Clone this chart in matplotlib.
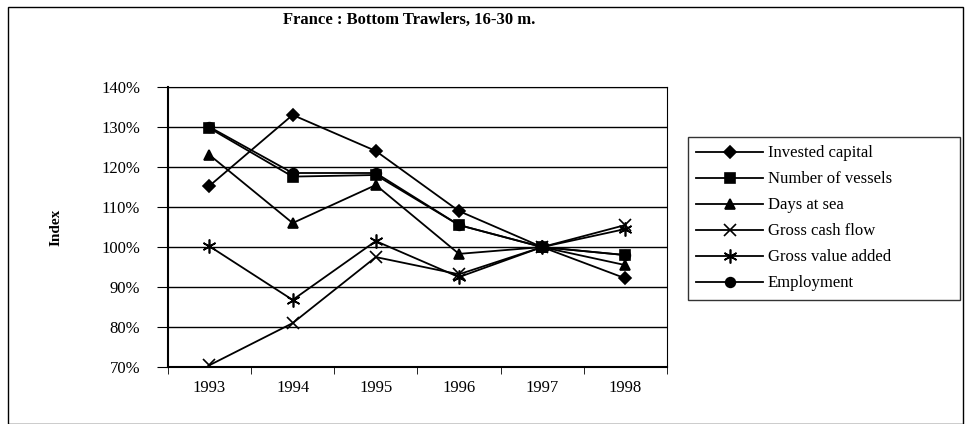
import numpy as np
import matplotlib.pyplot as plt
from matplotlib.patches import Rectangle

plt.rcParams['font.family'] = ['Liberation Serif', 'DejaVu Serif']

years = ['1993', '1994', '1995', '1996', '1997', '1998']
invested_capital = [115.3, 133.0, 124.0, 109.0, 100.0, 92.2]
number_of_vessels = [129.7, 117.6, 118.0, 105.5, 100.0, 98.0]
days_at_sea = [123.0, 106.0, 115.5, 98.3, 100.0, 95.5]
gross_cash_flow = [70.5, 81.0, 97.5, 93.2, 100.0, 105.5]
gross_value_added = [100.2, 86.8, 101.5, 92.5, 100.0, 104.5]
employment = [130.0, 118.5, 118.5, 105.5, 100.0, 98.0]

series = [
    ('Invested capital', invested_capital, 'D', 6),
    ('Number of vessels', number_of_vessels, 's', 7),
    ('Days at sea', days_at_sea, '^', 7),
    ('Gross cash flow', gross_cash_flow, 'x', 8),
    ('Gross value added', gross_value_added, (6, 2, 0), 10),
    ('Employment', employment, 'o', 7),
]

fig = plt.figure(figsize=(9.65, 4.24), dpi=100)
ax = fig.add_axes([0.174, 0.134, 0.517, 0.661])

x = np.arange(len(years))
for label, vals, mk, ms in series:
    ax.plot(x, vals, color='black', lw=1.3, marker=mk, markersize=ms,
            markeredgewidth=1.2, label=label)

ax.set_xlim(-0.5, len(years) - 0.5)
ax.set_ylim(70, 140)
ax.set_yticks(np.arange(70, 141, 10))
ax.set_yticklabels([f'{v}%' for v in range(70, 141, 10)], fontsize=12)
ax.set_xticks(x)
ax.set_xticklabels(years, fontsize=12)
ax.set_xticks(np.arange(-0.5, len(years), 1), minor=True)
ax.tick_params(axis='x', which='major', length=0, pad=9)
ax.tick_params(axis='x', which='minor', length=5, direction='out')
ax.tick_params(axis='y', length=8, direction='out', pad=12)
ax.yaxis.grid(True, color='black', lw=1)
ax.set_axisbelow(True)
for s in ['left', 'bottom']:
    ax.spines[s].set_linewidth(1.5)
for s in ['top', 'right']:
    ax.spines[s].set_linewidth(0.8)

ax.set_ylabel('Index', fontsize=11, fontweight='bold', labelpad=28)
fig.text(0.424, 0.953, 'France : Bottom Trawlers, 16-30 m.', ha='center',
         va='center', fontsize=12, fontweight='bold')

fig.legend(loc='upper left', mode='expand',
           bbox_to_anchor=(688 / 965, 1 - 137 / 424, 272 / 965, 0.0),
           fontsize=12, frameon=True, fancybox=False, edgecolor='black',
           handlelength=4, labelspacing=0.6, borderpad=0.5,
           handletextpad=0.3, borderaxespad=0)

fig.patches.append(Rectangle((8 / 965, 0), 955 / 965, 1 - 7 / 424,
                             transform=fig.transFigure, fill=False,
                             edgecolor='black', lw=1))

fig.savefig('out.png', dpi=100)
